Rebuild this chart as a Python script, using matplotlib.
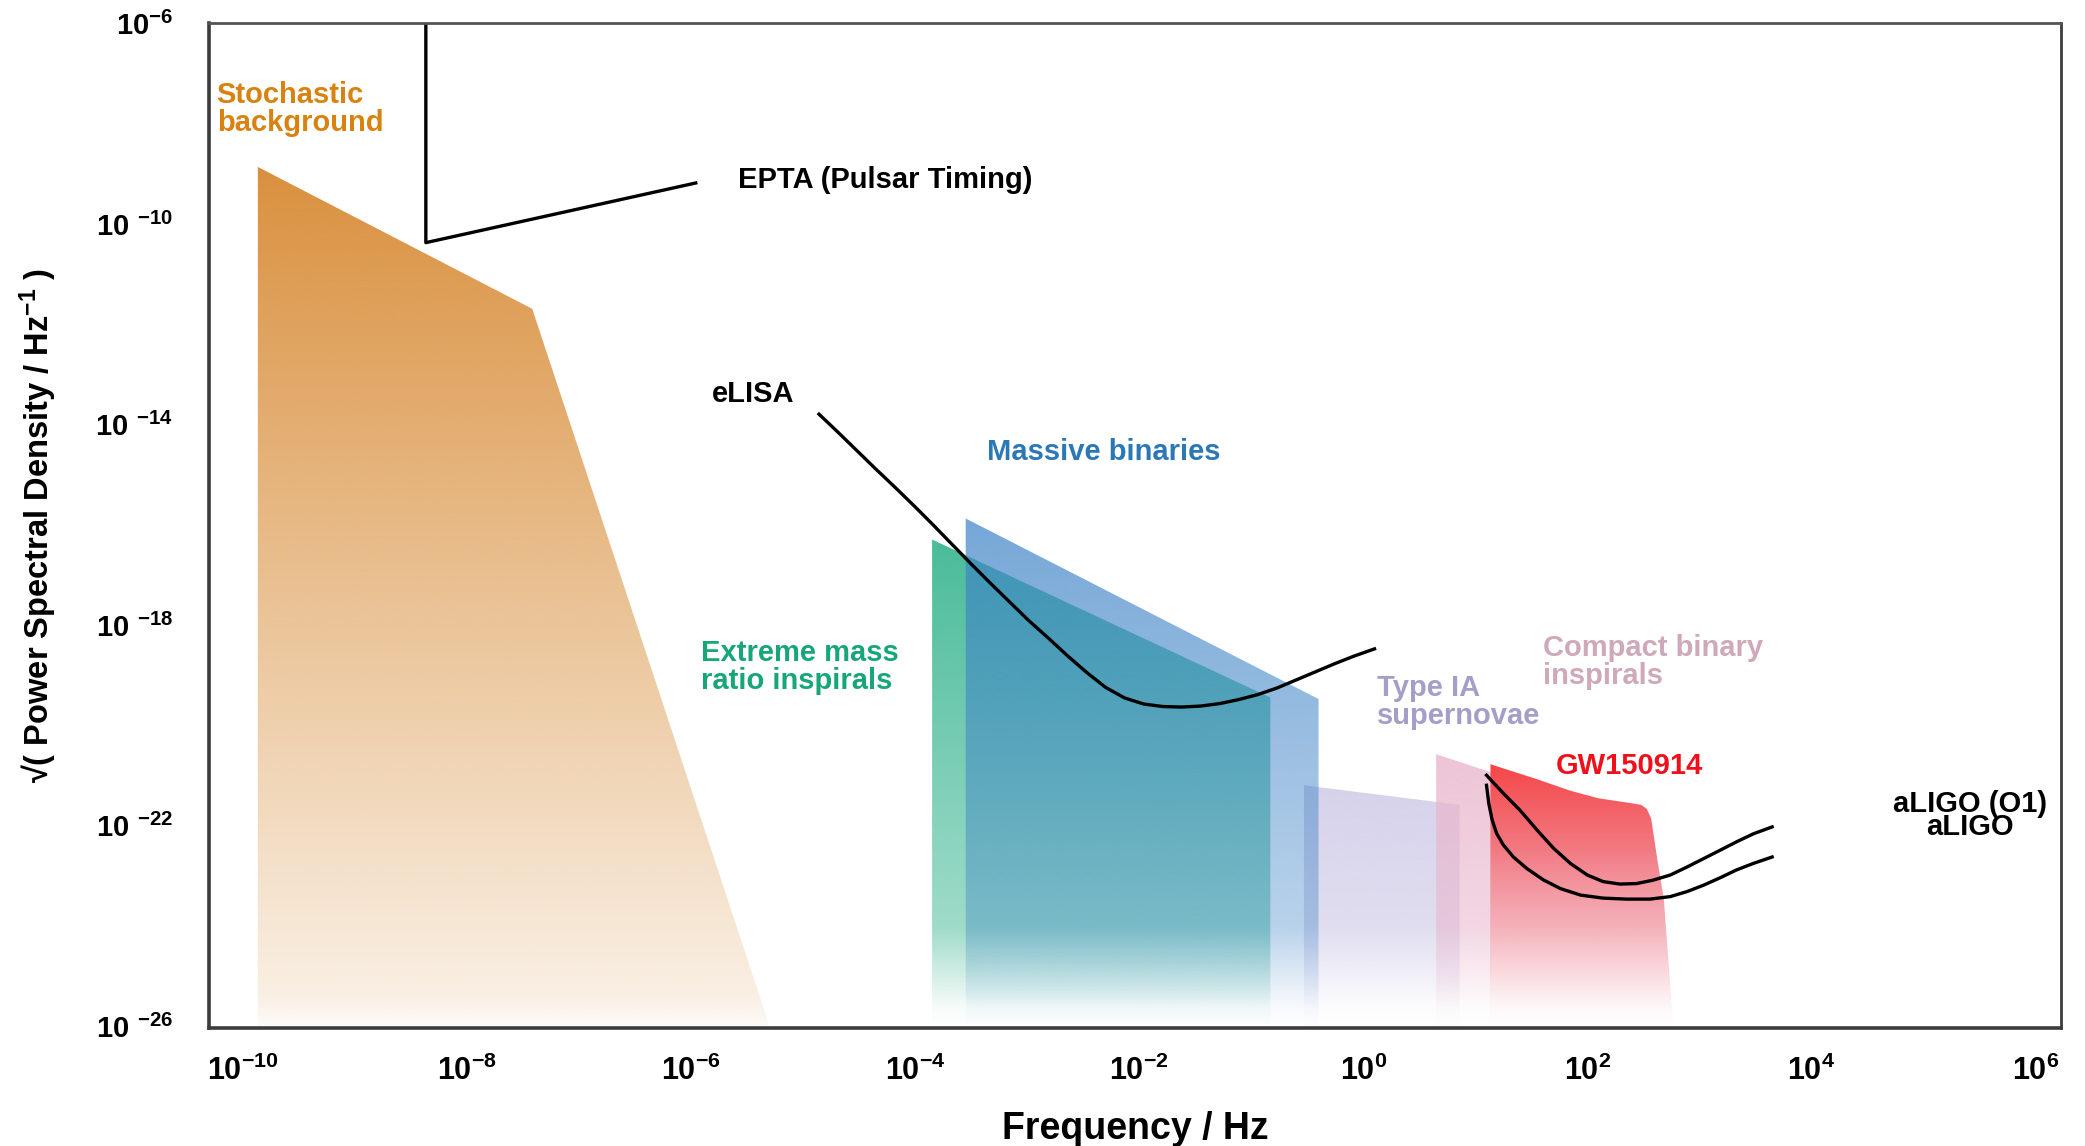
import numpy as np
import matplotlib
matplotlib.use("Agg")
import matplotlib.pyplot as plt
from matplotlib.patches import Polygon

plt.rcParams['font.family'] = ['Liberation Sans', 'DejaVu Sans']
plt.rcParams['font.weight'] = 'bold'
plt.rcParams['mathtext.fontset'] = 'custom'
plt.rcParams['mathtext.rm'] = 'Liberation Sans:bold'
plt.rcParams['mathtext.bf'] = 'Liberation Sans:bold'
plt.rcParams['mathtext.it'] = 'Liberation Sans:bold'
plt.rcParams['mathtext.default'] = 'rm'

# ---- data, as log10(frequency / Hz) and log10(strain / Hz^-1/2) ----
stoch_logf = [-9.87, -7.42, -5.30, -9.87]
stoch_logh = [-8.86, -11.69, -26.0, -26.0]

epta_logf = [-8.37, -8.37, -5.96]
epta_logh = [-5.9, -10.37, -9.18]

emri_logf = [-3.85, -0.83, -0.83, -3.85]
emri_logh = [-16.29, -19.44, -26.0, -26.0]

mbh_logf = [-3.55, -0.40, -0.40, -3.55]
mbh_logh = [-15.87, -19.47, -26.0, -26.0]

sn_logf = [-0.53, 0.86, 0.86, -0.53]
sn_logh = [-21.19, -21.58, -26.0, -26.0]

cbc_logf = [0.65, 1.14, 1.14, 0.65]
cbc_logh = [-20.57, -20.93, -26.0, -26.0]

gw_logf = [1.135, 1.552, 1.85, 2.10, 2.40, 2.48, 2.53, 2.57, 2.624, 2.683, 2.767, 1.135]
gw_logh = [-20.77, -21.07, -21.30, -21.45, -21.55, -21.58, -21.66, -21.85, -22.66, -23.46, -26.0, -26.0]

elisa_logf = [-4.86, -4.69, -4.52, -4.35, -4.18, -4.01, -3.84, -3.67, -3.50, -3.33,
              -3.16, -2.99, -2.81, -2.64, -2.47, -2.30, -2.13, -1.96, -1.79, -1.62,
              -1.45, -1.28, -1.11, -0.94, -0.77, -0.60, -0.43, -0.26, -0.09, 0.10]
elisa_logh = [-13.79, -14.15, -14.52, -14.89, -15.25, -15.62, -16.00, -16.39, -16.78, -17.16,
              -17.53, -17.90, -18.26, -18.61, -18.94, -19.24, -19.45, -19.57, -19.62, -19.63,
              -19.61, -19.56, -19.48, -19.38, -19.25, -19.09, -18.93, -18.77, -18.62, -18.47]

aligo_o1_logf = [1.10, 1.25, 1.40, 1.55, 1.70, 1.85, 2.00, 2.14, 2.29, 2.44,
                 2.59, 2.74, 2.89, 3.04, 3.19, 3.33, 3.48, 3.65]
aligo_o1_logh = [-20.99, -21.35, -21.69, -22.08, -22.45, -22.75, -22.98, -23.11, -23.16, -23.15,
                 -23.08, -22.98, -22.82, -22.65, -22.48, -22.32, -22.16, -22.02]

aligo_logf = [1.10, 1.12, 1.15, 1.19, 1.25, 1.34, 1.46, 1.61, 1.76, 1.94,
              2.14, 2.35, 2.56, 2.74, 2.89, 3.04, 3.19, 3.33, 3.48, 3.65]
aligo_logh = [-21.19, -21.55, -21.88, -22.15, -22.38, -22.62, -22.85, -23.08, -23.25, -23.38,
              -23.44, -23.46, -23.46, -23.41, -23.31, -23.18, -23.03, -22.88, -22.75, -22.62]

xtick_exp = [-10, -8, -6, -4, -2, 0, 2, 4, 6]
ytick_exp = [-6, -10, -14, -18, -22, -26]

# ---- figure ----
fig = plt.figure(figsize=(20.85, 11.46), dpi=100)
ax = fig.add_axes([209 / 2085, 1 - 1028 / 1146, (2061 - 209) / 2085, (1028 - 23) / 1146])
ax.set_xscale('log')
ax.set_yscale('log')
ax.set_xlim(10 ** -10.306, 10 ** 6.229)
ax.set_ylim(10 ** -26.03, 10 ** -5.99)


def shade(logf, logh, stops, z):
    # polygon filled with a vertical gradient (axes-fraction stops), fading to white at the bottom
    pts = np.column_stack([10.0 ** np.asarray(logf), 10.0 ** np.asarray(logh)])
    poly = Polygon(pts, closed=True, fc='none', ec='none')
    ax.add_patch(poly)
    t = np.linspace(0, 1, 800)
    ts = [s[0] for s in stops]
    img = np.zeros((800, 1, 4))
    for k in range(3):
        img[:, 0, k] = np.interp(t, ts, [s[1][k] / 255 for s in stops])
    img[:, 0, 3] = np.interp(t, ts, [s[2] for s in stops])
    im = ax.imshow(img, extent=(0, 1, 0, 1), transform=ax.transAxes, origin='lower',
                   aspect='auto', interpolation='bilinear', zorder=z)
    im.set_clip_path(poly)


orange = (214, 134, 44)
shade(stoch_logf, stoch_logh, [(0.0, orange, 0.03), (0.03, orange, 0.13), (0.86, orange, 0.92), (1.0, orange, 0.92)], 1)

green = (40, 175, 135)
shade(emri_logf, emri_logh, [(0.0, green, 0.0), (0.02, green, 0.04), (0.10, green, 0.45),
                             (0.5, green, 0.86), (1.0, green, 0.86)], 2)

lav = (200, 194, 228)
shade(sn_logf, sn_logh, [(0.0, lav, 0.0), (0.02, lav, 0.05), (0.10, lav, 0.55),
                         (0.25, lav, 0.75), (1.0, lav, 0.75)], 2)

blue = (60, 130, 198)
shade(mbh_logf, mbh_logh, [(0.0, blue, 0.0), (0.02, blue, 0.04), (0.10, blue, 0.36),
                           (0.5, blue, 0.70), (1.0, blue, 0.70)], 3)

pink = (233, 182, 204)
shade(cbc_logf, cbc_logh, [(0.0, pink, 0.0), (0.02, pink, 0.05), (0.10, pink, 0.55),
                           (0.27, pink, 0.8), (1.0, pink, 0.8)], 3)

shade(gw_logf, gw_logh, [(0.0, (238, 130, 145), 0.0), (0.02, (238, 130, 145), 0.06),
                         (0.10, (238, 125, 140), 0.6), (0.18, (240, 95, 105), 0.85),
                         (0.27, (245, 55, 55), 0.95), (1.0, (245, 55, 55), 0.95)], 4)

# ---- sensitivity curves ----
lw = 2.4
ax.plot(10.0 ** np.array(epta_logf), 10.0 ** np.array(epta_logh), color='black', lw=lw, zorder=6)
ax.plot(10.0 ** np.array(elisa_logf), 10.0 ** np.array(elisa_logh), color='black', lw=lw, zorder=6)
ax.plot(10.0 ** np.array(aligo_o1_logf), 10.0 ** np.array(aligo_o1_logh), color='black', lw=lw, zorder=6)
ax.plot(10.0 ** np.array(aligo_logf), 10.0 ** np.array(aligo_logh), color='black', lw=lw, zorder=6)

# ---- labels ----
fs = 21
ax.text(10 ** -10.238, 10 ** -7.706, "Stochastic\nbackground", color='#d9820f', fontsize=fs,
        ha='left', va='center', linespacing=1.0, zorder=7)
ax.text(10 ** -5.582, 10 ** -9.122, "EPTA (Pulsar Timing)", color='black', fontsize=fs,
        ha='left', va='center', zorder=7)
ax.text(10 ** -5.82, 10 ** -13.381, "eLISA", color='black', fontsize=fs, ha='left', va='center', zorder=7)
ax.text(10 ** -2.316, 10 ** -14.545, "Massive binaries", color='#2b78b6', fontsize=fs,
        ha='center', va='center', zorder=7)
ax.text(10 ** -5.914, 10 ** -18.831, "Extreme mass\nratio inspirals", color='#17a67a', fontsize=fs,
        ha='left', va='center', linespacing=1.0, zorder=7)
ax.text(10 ** 0.119, 10 ** -19.532, "Type IA\nsupernovae", color='#a59ec9', fontsize=fs,
        ha='left', va='center', linespacing=1.0, zorder=7)
ax.text(10 ** 1.603, 10 ** -18.725, "Compact binary\ninspirals", color='#cfa8bb', fontsize=fs,
        ha='left', va='center', linespacing=1.0, zorder=7)
ax.text(10 ** 1.722, 10 ** -20.815, "GW150914", color='#f0101c', fontsize=fs,
        ha='left', va='center', zorder=7)
ax.text(10 ** 5.416, 10 ** -21.79, "aLIGO (O1)\naLIGO", color='black', fontsize=fs,
        ha='center', va='center', multialignment='center', linespacing=0.78, zorder=7)

# ---- axes ----
ax.minorticks_off()
ax.set_xticks([10.0 ** e for e in xtick_exp])
ax.set_xticklabels([r'$10^{%d}$' % e for e in xtick_exp])
ax.set_yticks([10.0 ** e for e in ytick_exp])
ax.set_yticklabels([r'$10^{%d}$' % e if e == -6 else r'$10\ {}^{%d}$' % e for e in ytick_exp])
ax.tick_params(axis='x', length=0, pad=20, labelsize=22)
ax.tick_params(axis='y', length=0, pad=26, labelsize=21)

ax.set_xlabel("Frequency / Hz", fontsize=27, fontweight='bold')
ax.xaxis.set_label_coords(0.5, -0.083)
ax.set_ylabel(r"√( Power Spectral Density / Hz$^{-1}$ )", fontsize=23.5, fontweight='bold')
ax.yaxis.set_label_coords(-0.081, 0.5)

for name, sp in ax.spines.items():
    sp.set_color('#3c3c3c' if name in ('left', 'bottom', 'right') else '#555555')
    sp.set_linewidth(2.6 if name in ('left', 'bottom') else 2.0)
    sp.set_zorder(8)

fig.savefig("out.png", dpi=100)
